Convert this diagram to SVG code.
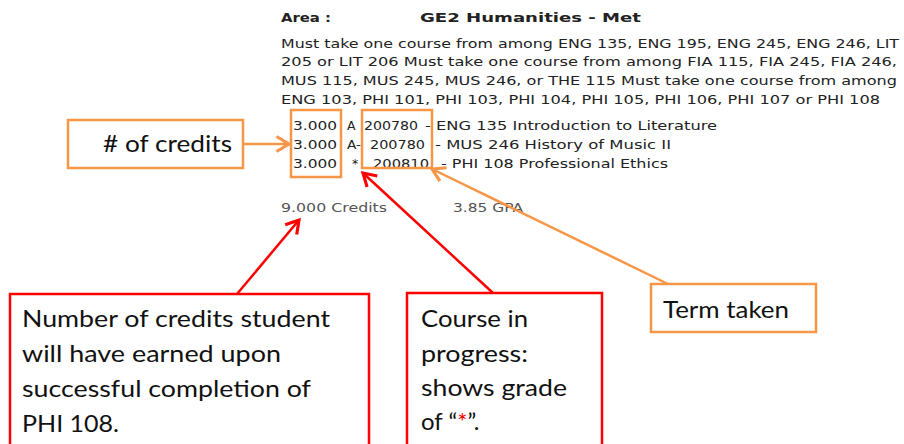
<svg xmlns="http://www.w3.org/2000/svg" width="904" height="444" viewBox="0 0 904 444">
<defs>
<style>
.t{font-family:"DejaVu Sans",Verdana,sans-serif;font-size:12.5px;fill:#222}
.b{font-weight:bold}
.g{fill:#555}
.c{font-family:Lato,"Open Sans","Liberation Sans",sans-serif;font-size:24px;fill:#111}
.ob{fill:none;stroke:#F79646;stroke-width:2.5}
.rb{fill:#fff;stroke:#FF0000;stroke-width:2.5}
.ol{stroke:#F79646;stroke-width:2.5;fill:none}
.rl{stroke:#FF0000;stroke-width:2.5;fill:none}
</style>
<marker id="ao" markerUnits="userSpaceOnUse" markerWidth="20" markerHeight="20" viewBox="-12 -8 14 16" refX="0" refY="0" orient="auto">
<path d="M-10,-6 L0,0 L-10,6" fill="none" stroke="#F79646" stroke-width="2.5"/>
</marker>
<marker id="ar" markerUnits="userSpaceOnUse" markerWidth="20" markerHeight="20" viewBox="-12 -8 14 16" refX="0" refY="0" orient="auto">
<path d="M-10,-6 L0,0 L-10,6" fill="none" stroke="#FF0000" stroke-width="2.5"/>
</marker>
</defs>
<rect width="904" height="444" fill="#fff"/>
<g id="record">
<text class="t b" x="281" y="22" textLength="50" lengthAdjust="spacingAndGlyphs">Area :</text>
<text class="t b" x="420" y="22" textLength="221" lengthAdjust="spacingAndGlyphs">GE2 Humanities - Met</text>
<text class="t" x="281" y="48" textLength="618" lengthAdjust="spacingAndGlyphs">Must take one course from among ENG 135, ENG 195, ENG 245, ENG 246, LIT</text>
<text class="t" x="281" y="66" textLength="616" lengthAdjust="spacingAndGlyphs">205 or LIT 206 Must take one course from among FIA 115, FIA 245, FIA 246,</text>
<text class="t" x="281" y="85" textLength="616" lengthAdjust="spacingAndGlyphs">MUS 115, MUS 245, MUS 246, or THE 115 Must take one course from among</text>
<text class="t" x="281" y="104" textLength="599" lengthAdjust="spacingAndGlyphs">ENG 103, PHI 101, PHI 103, PHI 104, PHI 105, PHI 106, PHI 107 or PHI 108</text>
<text class="t" x="293" y="130" textLength="44" lengthAdjust="spacingAndGlyphs">3.000</text>
<text class="t" x="347" y="130">A</text>
<text class="t" x="364" y="130" textLength="54" lengthAdjust="spacingAndGlyphs">200780</text>
<text class="t" x="425" y="130" textLength="292" lengthAdjust="spacingAndGlyphs">- ENG 135 Introduction to Literature</text>
<text class="t" x="293" y="149" textLength="44" lengthAdjust="spacingAndGlyphs">3.000</text>
<text class="t" x="347" y="149" textLength="14" lengthAdjust="spacingAndGlyphs">A-</text>
<text class="t" x="370" y="149" textLength="55" lengthAdjust="spacingAndGlyphs">200780</text>
<text class="t" x="435" y="149" textLength="236" lengthAdjust="spacingAndGlyphs">- MUS 246 History of Music II</text>
<text class="t" x="293" y="168" textLength="44" lengthAdjust="spacingAndGlyphs">3.000</text>
<text class="t" x="352" y="168">*</text>
<text class="t" x="373" y="168" textLength="56" lengthAdjust="spacingAndGlyphs">200810</text>
<text class="t" x="441" y="168" textLength="227" lengthAdjust="spacingAndGlyphs">- PHI 108 Professional Ethics</text>
<text class="t g" x="281" y="212" textLength="106" lengthAdjust="spacingAndGlyphs">9.000 Credits</text>
<text class="t g" x="453" y="212" textLength="70" lengthAdjust="spacingAndGlyphs">3.85 GPA</text>
<rect class="ob" x="291" y="110" width="50" height="67"/>
<rect class="ob" x="362" y="110" width="70" height="58"/>
</g>
<g id="connectors">
<line class="ol" x1="243" y1="144" x2="289" y2="144" marker-end="url(#ao)"/>
<line class="rl" x1="237" y1="294" x2="299" y2="220" marker-end="url(#ar)"/>
<line class="rl" x1="493" y1="293" x2="363" y2="173" marker-end="url(#ar)"/>
<line class="ol" x1="668" y1="284" x2="432" y2="169" marker-end="url(#ao)"/>
</g>
<g id="credits-label">
<rect class="ob" x="68" y="120" width="175" height="48" style="fill:#fff"/>
<text class="c" x="103" y="152" textLength="129" lengthAdjust="spacingAndGlyphs"># of credits</text>
</g>
<g id="total-label">
<rect class="rb" x="10" y="294" width="359" height="160"/>
<text class="c" x="22" y="327" textLength="308" lengthAdjust="spacingAndGlyphs">Number of credits student</text>
<text class="c" x="22" y="362" textLength="259" lengthAdjust="spacingAndGlyphs">will have earned upon</text>
<text class="c" x="22" y="397" textLength="289" lengthAdjust="spacingAndGlyphs">successful completion of</text>
<text class="c" x="22" y="432" textLength="97" lengthAdjust="spacingAndGlyphs">PHI 108.</text>
</g>
<g id="progress-label">
<rect class="rb" x="407" y="293" width="195" height="160"/>
<text class="c" x="421" y="327" textLength="107" lengthAdjust="spacingAndGlyphs">Course in</text>
<text class="c" x="421" y="362" textLength="107" lengthAdjust="spacingAndGlyphs">progress:</text>
<text class="c" x="421" y="396" textLength="146" lengthAdjust="spacingAndGlyphs">shows grade</text>
<text class="c" x="421" y="430">of “<tspan fill="#FF0000">*</tspan>”.</text>
</g>
<g id="term-label">
<rect class="ob" x="651" y="284" width="165" height="48" style="fill:#fff"/>
<text class="c" x="663" y="318" textLength="126" lengthAdjust="spacingAndGlyphs">Term taken</text>
</g>
</svg>
